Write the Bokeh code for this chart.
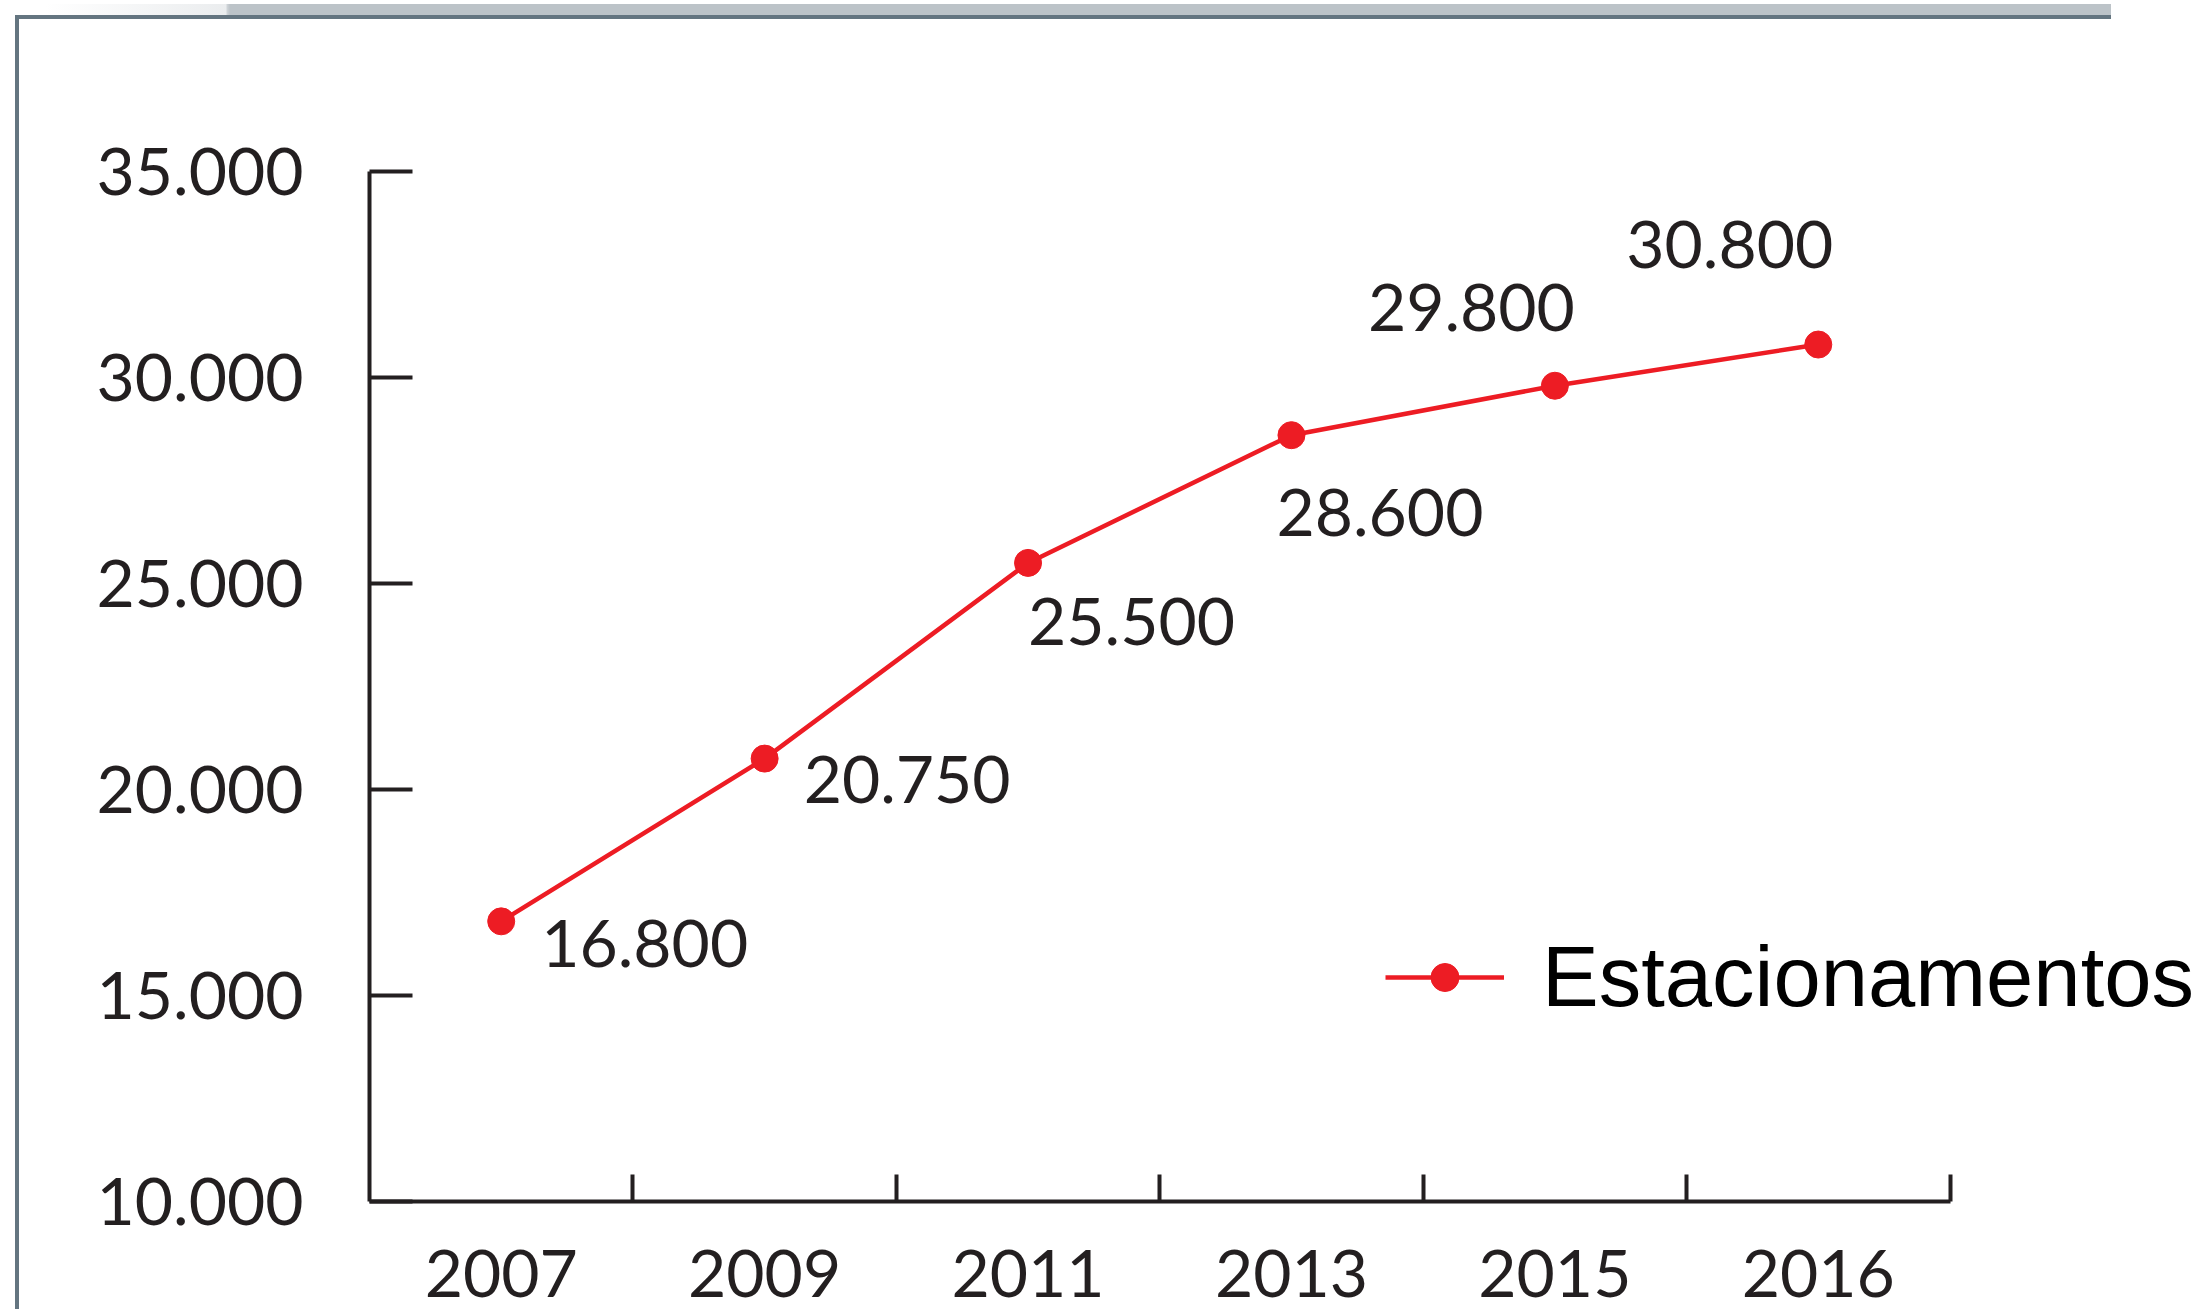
from bokeh.plotting import figure
from bokeh.models import ColumnDataSource, Range1d, FixedTicker, InlineStyleSheet
from bokeh.core.properties import value
from bokeh.embed import file_html
from bokeh.resources import INLINE

# ---- data ----
years = ["2007", "2009", "2011", "2013", "2015", "2016"]
estacionamentos = [16800, 20750, 25500, 28600, 29800, 30800]
value_labels = ["16.800", "20.750", "25.500", "28.600", "29.800", "30.800"]
y_ticks = [10000, 15000, 20000, 25000, 30000, 35000]
y_tick_labels = ["10.000", "15.000", "20.000", "25.000", "30.000", "35.000"]
series_name = "Estacionamentos"

# ---- label placement (screen px offsets, style only) ----
label_dx = [40, 39, 0, -15, -187, -192]
label_dy = [22, 21, 59, 77, -78, -100]

RED = "#ED1C24"
INK = "#231f20"
NUM_FONT = "Lato"

# ---- layout (pixels) ----
CANVAS_W, CANVAS_H = 2198, 1309
FRAME_L, AXIS_R, FRAME_T, FRAME_B = 369, 1949.5, 171, 1201

n = len(years)
xs = [i + 0.5 for i in range(n)]
boundaries = [i + 1 for i in range(n)]
# frame runs to the canvas edge so the legend is not clipped; the axis is bounded
x_end = n * (CANVAS_W - FRAME_L) / (AXIS_R - FRAME_L)

src = ColumnDataSource(dict(x=xs, y=estacionamentos, label=value_labels,
                            dx=label_dx, dy=label_dy))

p = figure(width=CANVAS_W, height=CANVAS_H,
           x_range=Range1d(0, x_end), y_range=Range1d(y_ticks[0], y_ticks[-1]),
           output_backend="svg", toolbar_location=None,
           min_border_left=FRAME_L, min_border_right=0,
           min_border_top=FRAME_T, min_border_bottom=CANVAS_H - FRAME_B)
p.xgrid.visible = False
p.ygrid.visible = False
p.outline_line_color = None
p.background_fill_color = "white"
p.border_fill_color = "white"

# x axis: labels at category centres, ticks at category boundaries
xa = p.xaxis[0]
xa.bounds = (0, n)
xa.ticker = FixedTicker(ticks=xs, minor_ticks=boundaries)
xa.major_label_overrides = {x: y for x, y in zip(xs, years)}
xa.major_tick_in = 0
xa.major_tick_out = 0
xa.minor_tick_in = 27
xa.minor_tick_out = 0
xa.minor_tick_line_width = 4
xa.minor_tick_line_color = INK
xa.axis_line_width = 4
xa.axis_line_color = INK
xa.major_label_text_font = NUM_FONT
xa.major_label_text_font_size = "66px"
xa.major_label_text_color = INK
xa.major_label_standoff = 48

ya = p.yaxis[0]
ya.ticker = FixedTicker(ticks=y_ticks, minor_ticks=[])
ya.major_label_overrides = {t: s for t, s in zip(y_ticks, y_tick_labels)}
ya.major_tick_in = 43
ya.major_tick_out = 0
ya.major_tick_line_width = 4
ya.major_tick_line_color = INK
ya.minor_tick_in = 0
ya.minor_tick_out = 0
ya.axis_line_width = 4
ya.axis_line_color = INK
ya.major_label_text_font = NUM_FONT
ya.major_label_text_font_size = "66px"
ya.major_label_text_color = INK
ya.major_label_standoff = 66

# series
p.line("x", "y", source=src, line_color=RED, line_width=4.5, legend_label=series_name)
p.scatter("x", "y", source=src, size=27, fill_color=RED, line_color=RED,
          legend_label=series_name)

# value labels
p.text("x", "y", text="label", source=src, x_offset="dx", y_offset="dy",
       text_font=value(NUM_FONT), text_font_size="66px", text_color=INK,
       text_align="left", text_baseline="middle")

# legend
lg = p.legend[0]
lg.location = (1016, 175)
lg.glyph_width = 119
lg.glyph_height = 70
lg.label_height = 70
lg.label_standoff = 38
lg.label_text_font = "Liberation Sans"
lg.label_text_font_size = "85px"
lg.label_text_color = "black"
lg.padding = 0
lg.margin = 0
lg.spacing = 0
lg.border_line_color = None
lg.background_fill_alpha = 0

# page frame decoration (grey border at left and top, grey bar above it)
frame_css = InlineStyleSheet(css="""
:host { position: relative; }
:host::before {
  content: ""; position: absolute; left: 45px; top: 4px; width: 2066px; height: 11px;
  z-index: 100; pointer-events: none;
  background: linear-gradient(to right, rgba(188,195,200,0.0) 0px,
              rgba(188,195,200,0.3) 181px, rgba(188,195,200,0.7) 182px,
              #bcc3c8 185px, #bcc3c8 100%);
}
:host::after {
  content: ""; position: absolute; left: 15px; top: 15px; width: 2096px; height: 1294px;
  z-index: 100; pointer-events: none; box-sizing: border-box;
  border-left: 4px solid #647580; border-top: 4px solid #647580;
}
""")
p.stylesheets = [frame_css]

open("out.html", "w").write(file_html(p, INLINE))
